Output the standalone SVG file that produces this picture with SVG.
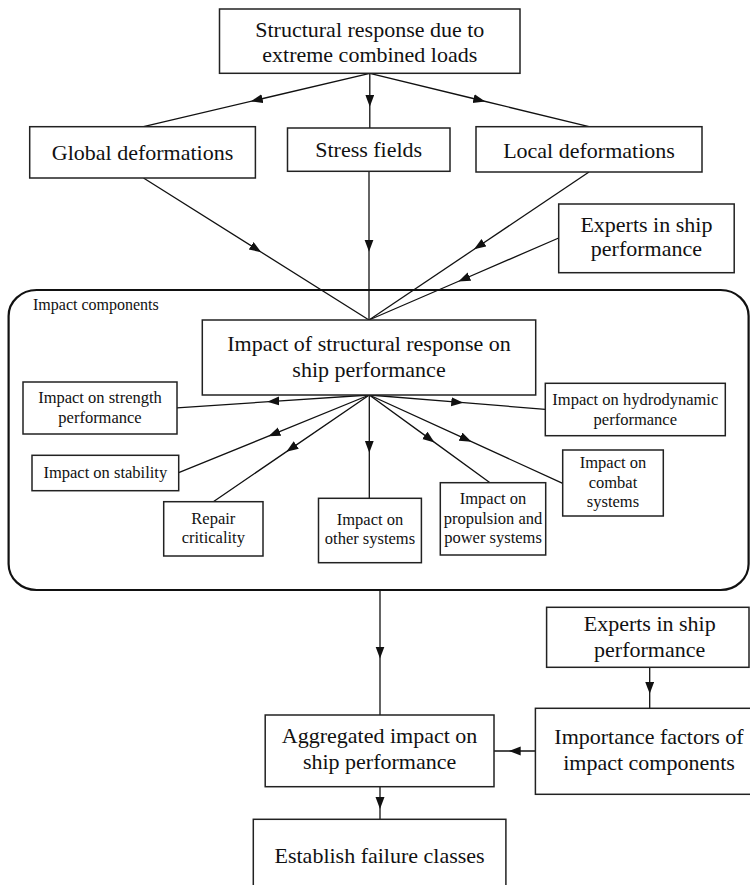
<svg xmlns="http://www.w3.org/2000/svg" width="750" height="885" viewBox="0 0 750 885">
  <style>
    .box { fill: #ffffff; stroke: #222222; stroke-width: 1.5; }
    .group { fill: none; stroke: #111111; stroke-width: 2.2; }
    .lg { font-family: "Liberation Serif", "Times New Roman", serif; font-size: 22px; fill: #111111; text-anchor: middle; }
    .sm { font-family: "Liberation Serif", "Times New Roman", serif; font-size: 16.5px; fill: #111111; text-anchor: middle; }
    .cap { font-family: "Liberation Serif", "Times New Roman", serif; font-size: 16px; fill: #111111; }
    .edge { fill: none; stroke: #111111; stroke-width: 1.3; marker-mid: url(#arrow); }
  </style>
  <defs>
    <marker id="arrow" markerUnits="userSpaceOnUse" markerWidth="12" markerHeight="10" refX="6" refY="4.5" orient="auto">
      <path d="M0,0 L12,4.5 L0,9 z" fill="#111111"/>
    </marker>
  </defs>

  <rect width="750" height="885" fill="#ffffff"/>

  <!-- container for the impact components -->
  <g id="impact-components">
    <rect class="group" x="8.6" y="290" width="740" height="300" rx="28" ry="26"/>
    <text class="cap" x="33" y="310">Impact components</text>
  </g>

  <!-- connectors -->
  <g id="connectors">
    <path class="edge" d="M369.8,73.3 L256.6,100 L143.5,126.7"/>
    <path class="edge" d="M369.8,73.3 L369.8,100.7 L369.8,128"/>
    <path class="edge" d="M369.8,73.3 L479.4,100 L589,126.7"/>
    <path class="edge" d="M143.5,178 L256.2,249 L369,320"/>
    <path class="edge" d="M369,171.3 L369,245.7 L369,320"/>
    <path class="edge" d="M589,172 L479,246 L369,320"/>
    <path class="edge" d="M558.7,238 L463.9,279 L369,320"/>
    <path class="edge" d="M369.3,395 L273.2,401.4 L177,407.8"/>
    <path class="edge" d="M369.3,395 L274,433.9 L178.7,472.7"/>
    <path class="edge" d="M369.3,395 L291.3,448.4 L213.3,501.7"/>
    <path class="edge" d="M369.3,395 L369.3,446.7 L369.3,498.3"/>
    <path class="edge" d="M369.3,395 L429.7,438.9 L490,482.7"/>
    <path class="edge" d="M369.3,395 L466,439.2 L562.7,483.3"/>
    <path class="edge" d="M369.3,395 L457.3,402.2 L545.3,409.3"/>
    <path class="edge" d="M380,590 L380,652.5 L380,715"/>
    <path class="edge" d="M649.7,667.3 L649.7,687.8 L649.7,708.3"/>
    <path class="edge" d="M535.4,751 L514.7,751 L494,751"/>
    <path class="edge" d="M380,786.7 L380,803 L380,819.3"/>
  </g>

  <g id="structural-response">
    <rect class="box" x="219.5" y="9" width="300.5" height="64.3"/>
    <text class="lg" x="369.8" y="37">Structural response due to</text>
    <text class="lg" x="369.8" y="62">extreme combined loads</text>
  </g>

  <g id="global-deformations">
    <rect class="box" x="29.7" y="126.7" width="225.7" height="51.3"/>
    <text class="lg" x="142.5" y="160">Global deformations</text>
  </g>

  <g id="stress-fields">
    <rect class="box" x="287.5" y="128" width="162.5" height="43.3"/>
    <text class="lg" x="368.7" y="157">Stress fields</text>
  </g>

  <g id="local-deformations">
    <rect class="box" x="476" y="126.7" width="226" height="45.3"/>
    <text class="lg" x="589" y="158">Local deformations</text>
  </g>

  <g id="experts-top">
    <rect class="box" x="558.7" y="204" width="175.5" height="68.7"/>
    <text class="lg" x="646.4" y="232">Experts in ship</text>
    <text class="lg" x="646.4" y="256">performance</text>
  </g>

  <g id="impact-of-response">
    <rect class="box" x="202.3" y="320" width="333.4" height="75"/>
    <text class="lg" x="369" y="350.5">Impact of structural response on</text>
    <text class="lg" x="369" y="376.5">ship performance</text>
  </g>

  <g id="strength">
    <rect class="box" x="23" y="382" width="154" height="52"/>
    <text class="sm" x="100" y="403">Impact on strength</text>
    <text class="sm" x="100" y="423">performance</text>
  </g>

  <g id="stability">
    <rect class="box" x="32" y="455.3" width="146.7" height="35.4"/>
    <text class="sm" x="105.3" y="478">Impact on stability</text>
  </g>

  <g id="repair">
    <rect class="box" x="163.7" y="501.7" width="99.3" height="54.3"/>
    <text class="sm" x="213.3" y="524">Repair</text>
    <text class="sm" x="213.3" y="543">criticality</text>
  </g>

  <g id="other-systems">
    <rect class="box" x="318.5" y="498.3" width="102.9" height="64.4"/>
    <text class="sm" x="370" y="525">Impact on</text>
    <text class="sm" x="370" y="544">other systems</text>
  </g>

  <g id="propulsion">
    <rect class="box" x="440.3" y="482.7" width="105.4" height="72.3"/>
    <text class="sm" x="493" y="504">Impact on</text>
    <text class="sm" x="493" y="524">propulsion and</text>
    <text class="sm" x="493" y="543">power systems</text>
  </g>

  <g id="combat">
    <rect class="box" x="562.7" y="450" width="100.6" height="66"/>
    <text class="sm" x="613" y="468">Impact on</text>
    <text class="sm" x="613" y="488">combat</text>
    <text class="sm" x="613" y="507">systems</text>
  </g>

  <g id="hydrodynamic">
    <rect class="box" x="545.3" y="383.3" width="180" height="52.4"/>
    <text class="sm" x="635.3" y="405">Impact on hydrodynamic</text>
    <text class="sm" x="635.3" y="424.5">performance</text>
  </g>

  <g id="experts-bottom">
    <rect class="box" x="546.6" y="607.3" width="202.4" height="60"/>
    <text class="lg" x="649.7" y="630.5">Experts in ship</text>
    <text class="lg" x="649.7" y="656.5">performance</text>
  </g>

  <g id="importance-factors">
    <rect class="box" x="535.4" y="708.3" width="230" height="86"/>
    <text class="lg" x="649" y="743.5">Importance factors of</text>
    <text class="lg" x="649" y="770">impact components</text>
  </g>

  <g id="aggregated">
    <rect class="box" x="265.2" y="715" width="228.8" height="71.7"/>
    <text class="lg" x="379.6" y="743">Aggregated impact on</text>
    <text class="lg" x="379.6" y="769">ship performance</text>
  </g>

  <g id="failure-classes">
    <rect class="box" x="253.3" y="819.3" width="252.6" height="80"/>
    <text class="lg" x="379.6" y="863">Establish failure classes</text>
  </g>
</svg>
